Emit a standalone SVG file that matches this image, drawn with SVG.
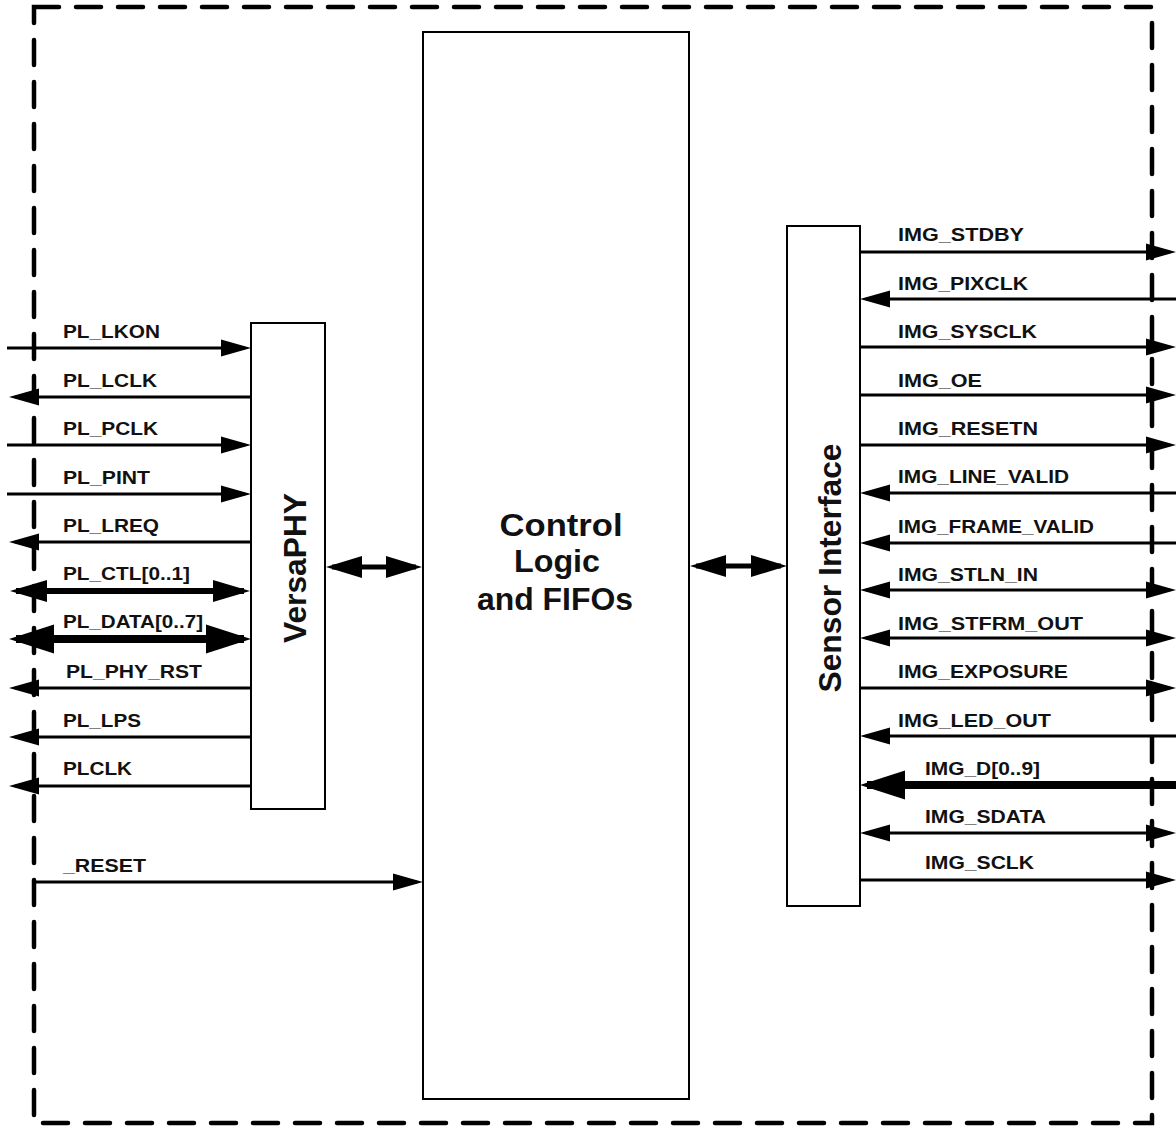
<svg xmlns="http://www.w3.org/2000/svg" width="1176" height="1127" viewBox="0 0 1176 1127">
<style>
.box{fill:#fff;stroke:#000;stroke-width:2}
.border{fill:none;stroke:#000;stroke-width:4.5;stroke-dasharray:25 17;stroke-linecap:round}
.sig{fill:none;stroke:#000;stroke-width:3}
.bus{fill:none;stroke:#000;stroke-width:6}
.wide{fill:none;stroke:#000;stroke-width:8}
.mid{fill:none;stroke:#000;stroke-width:5}
.lbl{font-family:"Liberation Sans",Arial,sans-serif;font-weight:bold;font-size:19px;fill:#111}
.big{font-family:"Liberation Sans",Arial,sans-serif;font-weight:bold;font-size:32px;fill:#111}
</style>
<defs>
<marker id="aS" markerUnits="userSpaceOnUse" viewBox="0 -10 32 20" markerWidth="32" markerHeight="20" refX="24" refY="0" orient="auto-start-reverse"><path d="M0,-8.5 L30,0 L0,8.5 Z" fill="#000"/></marker>
<marker id="aM" markerUnits="userSpaceOnUse" viewBox="0 -13 40 26" markerWidth="40" markerHeight="26" refX="31" refY="0" orient="auto-start-reverse"><path d="M0,-11 L37,0 L0,11 Z" fill="#000"/></marker>
<marker id="aL" markerUnits="userSpaceOnUse" viewBox="0 -16 48 32" markerWidth="48" markerHeight="32" refX="38" refY="0" orient="auto-start-reverse"><path d="M0,-14.5 L45,0 L0,14.5 Z" fill="#000"/></marker>
<marker id="aC" markerUnits="userSpaceOnUse" viewBox="0 -13 40 26" markerWidth="40" markerHeight="26" refX="30" refY="0" orient="auto-start-reverse"><path d="M0,-11 L36,0 L0,11 Z" fill="#000"/></marker>
</defs>
<rect class="border" x="34" y="7" width="1118" height="1116"/>
<g id="control">
<rect class="box" x="423" y="32" width="266" height="1067"/>
<text class="big" x="561" y="536" text-anchor="middle" textLength="123" lengthAdjust="spacingAndGlyphs">Control</text>
<text class="big" x="557" y="572" text-anchor="middle" textLength="86" lengthAdjust="spacingAndGlyphs">Logic</text>
<text class="big" x="555" y="610" text-anchor="middle" textLength="156" lengthAdjust="spacingAndGlyphs">and FIFOs</text>
</g>
<g id="versaphy">
<rect class="box" x="251" y="323" width="74" height="486"/>
<text class="big" transform="translate(306,568) rotate(-90)" x="0" y="0" text-anchor="middle" font-size="33" textLength="150" lengthAdjust="spacingAndGlyphs">VersaPHY</text>
</g>
<g id="sensor">
<rect class="box" x="787" y="226" width="73" height="680"/>
<text class="big" transform="translate(841,568) rotate(-90)" x="0" y="0" text-anchor="middle" font-size="33" textLength="249" lengthAdjust="spacingAndGlyphs">Sensor Interface</text>
</g>
<g id="connectors">
<path class="sig" d="M7,348 H245" marker-end="url(#aS)"/>
<path class="sig" d="M251,397 H15" marker-end="url(#aS)"/>
<path class="sig" d="M7,445 H245" marker-end="url(#aS)"/>
<path class="sig" d="M7,494 H245" marker-end="url(#aS)"/>
<path class="sig" d="M251,542 H15" marker-end="url(#aS)"/>
<path class="bus" d="M16,591 H244" marker-start="url(#aM)" marker-end="url(#aM)"/>
<path class="wide" d="M16,639 H244" marker-start="url(#aL)" marker-end="url(#aL)"/>
<path class="sig" d="M251,688 H15" marker-end="url(#aS)"/>
<path class="sig" d="M251,737 H15" marker-end="url(#aS)"/>
<path class="sig" d="M251,786 H15" marker-end="url(#aS)"/>
<path class="sig" d="M34,882 H417" marker-end="url(#aS)"/>
<path class="mid" d="M332,567 H416" marker-start="url(#aC)" marker-end="url(#aC)"/>
<path class="mid" d="M696,566 H781" marker-start="url(#aC)" marker-end="url(#aC)"/>
<path class="sig" d="M860,252 H1170" marker-end="url(#aS)"/>
<path class="sig" d="M1176,299 H866" marker-end="url(#aS)"/>
<path class="sig" d="M860,347 H1170" marker-end="url(#aS)"/>
<path class="sig" d="M860,395 H1170" marker-end="url(#aS)"/>
<path class="sig" d="M860,445 H1170" marker-end="url(#aS)"/>
<path class="sig" d="M1176,493 H866" marker-end="url(#aS)"/>
<path class="sig" d="M1176,543 H866" marker-end="url(#aS)"/>
<path class="sig" d="M866,590 H1170" marker-start="url(#aS)" marker-end="url(#aS)"/>
<path class="sig" d="M866,638 H1170" marker-start="url(#aS)" marker-end="url(#aS)"/>
<path class="sig" d="M860,688 H1170" marker-end="url(#aS)"/>
<path class="sig" d="M1176,736 H866" marker-end="url(#aS)"/>
<path class="wide" d="M1176,785 H867" marker-end="url(#aL)"/>
<path class="sig" d="M866,833 H1170" marker-start="url(#aS)" marker-end="url(#aS)"/>
<path class="sig" d="M860,880 H1170" marker-end="url(#aS)"/>
</g>
<g id="labels">
<text class="lbl" x="63" y="338" textLength="97" lengthAdjust="spacingAndGlyphs">PL_LKON</text>
<text class="lbl" x="63" y="387" textLength="94" lengthAdjust="spacingAndGlyphs">PL_LCLK</text>
<text class="lbl" x="63" y="435" textLength="95" lengthAdjust="spacingAndGlyphs">PL_PCLK</text>
<text class="lbl" x="63" y="484" textLength="87" lengthAdjust="spacingAndGlyphs">PL_PINT</text>
<text class="lbl" x="63" y="532" textLength="96" lengthAdjust="spacingAndGlyphs">PL_LREQ</text>
<text class="lbl" x="63" y="580" textLength="127" lengthAdjust="spacingAndGlyphs">PL_CTL[0..1]</text>
<text class="lbl" x="63" y="628" textLength="140" lengthAdjust="spacingAndGlyphs">PL_DATA[0..7]</text>
<text class="lbl" x="66" y="678" textLength="136" lengthAdjust="spacingAndGlyphs">PL_PHY_RST</text>
<text class="lbl" x="63" y="727" textLength="78" lengthAdjust="spacingAndGlyphs">PL_LPS</text>
<text class="lbl" x="63" y="775" textLength="69" lengthAdjust="spacingAndGlyphs">PLCLK</text>
<text class="lbl" x="63" y="872" textLength="83" lengthAdjust="spacingAndGlyphs">_RESET</text>
<text class="lbl" x="898" y="241" textLength="126" lengthAdjust="spacingAndGlyphs">IMG_STDBY</text>
<text class="lbl" x="898" y="290" textLength="130" lengthAdjust="spacingAndGlyphs">IMG_PIXCLK</text>
<text class="lbl" x="898" y="338" textLength="139" lengthAdjust="spacingAndGlyphs">IMG_SYSCLK</text>
<text class="lbl" x="898" y="387" textLength="84" lengthAdjust="spacingAndGlyphs">IMG_OE</text>
<text class="lbl" x="898" y="435" textLength="140" lengthAdjust="spacingAndGlyphs">IMG_RESETN</text>
<text class="lbl" x="898" y="483" textLength="171" lengthAdjust="spacingAndGlyphs">IMG_LINE_VALID</text>
<text class="lbl" x="898" y="533" textLength="196" lengthAdjust="spacingAndGlyphs">IMG_FRAME_VALID</text>
<text class="lbl" x="898" y="581" textLength="140" lengthAdjust="spacingAndGlyphs">IMG_STLN_IN</text>
<text class="lbl" x="898" y="630" textLength="185" lengthAdjust="spacingAndGlyphs">IMG_STFRM_OUT</text>
<text class="lbl" x="898" y="678" textLength="170" lengthAdjust="spacingAndGlyphs">IMG_EXPOSURE</text>
<text class="lbl" x="898" y="727" textLength="153" lengthAdjust="spacingAndGlyphs">IMG_LED_OUT</text>
<text class="lbl" x="925" y="775" textLength="115" lengthAdjust="spacingAndGlyphs">IMG_D[0..9]</text>
<text class="lbl" x="925" y="823" textLength="121" lengthAdjust="spacingAndGlyphs">IMG_SDATA</text>
<text class="lbl" x="925" y="869" textLength="109" lengthAdjust="spacingAndGlyphs">IMG_SCLK</text>
</g>
</svg>
